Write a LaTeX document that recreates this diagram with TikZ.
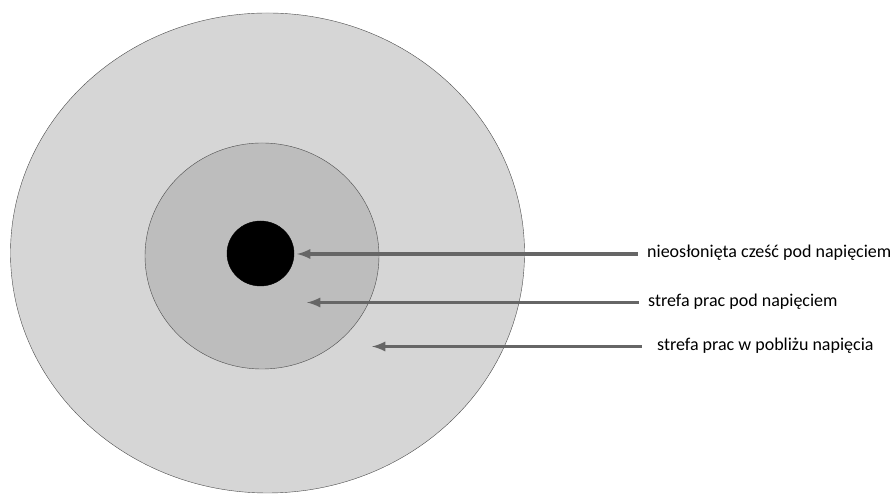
\documentclass[tikz,border=0pt]{standalone}
\usepackage{fontspec}
\setmainfont{Carlito}
\usepackage{tikz}
\usetikzlibrary{
  shapes.geometric,%
  arrows,
  positioning,
  calc
}
\tikzset{>=latex}
\tikzset{font=\fontsize{18}{22}\selectfont}
\tikzset{zone/.style={draw=black!70, thin, ellipse, inner sep=0pt},
  pointer/.style={<-, line width=3.5pt, draw=black!60},
  caption/.style={anchor=west, inner sep=0pt, text=black}}

\begin{document}
\begin{tikzpicture}[x=1pt, y=1pt]
          \useasboundingbox (0, 0) rectangle (892, 494); %
          \node[zone, fill=black!16, minimum width=514, minimum height=480] (outer) at (267.5, 241) {}; %
          \node[zone, fill=black!26, minimum width=234, minimum height=226] (work) at (262, 238) {}; %
          \node[zone, fill=black, draw=black, minimum width=67, minimum height=65] (live) at (260.5, 240.5) {}; %
          \node[caption] (t1) at (647, 241) {nieosłonięta cześć pod napięciem}; %
          \node[caption] (t2) at (648, 192) {strefa prac pod napięciem}; %
          \node[caption] (t3) at (657, 148) {strefa prac w pobliżu napięcia}; %
          \coordinate (p1) at (297, 240); %
          \coordinate (p2) at (307, 191.5); %
          \coordinate (p3) at (372, 147.5); %
          \draw[pointer] (p1) -- ($(t1.west)+(-9, -1)$); %
          \draw[pointer] (p2) -- ($(t2.west)+(-9, -0.5)$); %
          \draw[pointer] (p3) -- ($(t3.west)+(-15, -0.5)$); %
        \end{tikzpicture}
\end{document}
